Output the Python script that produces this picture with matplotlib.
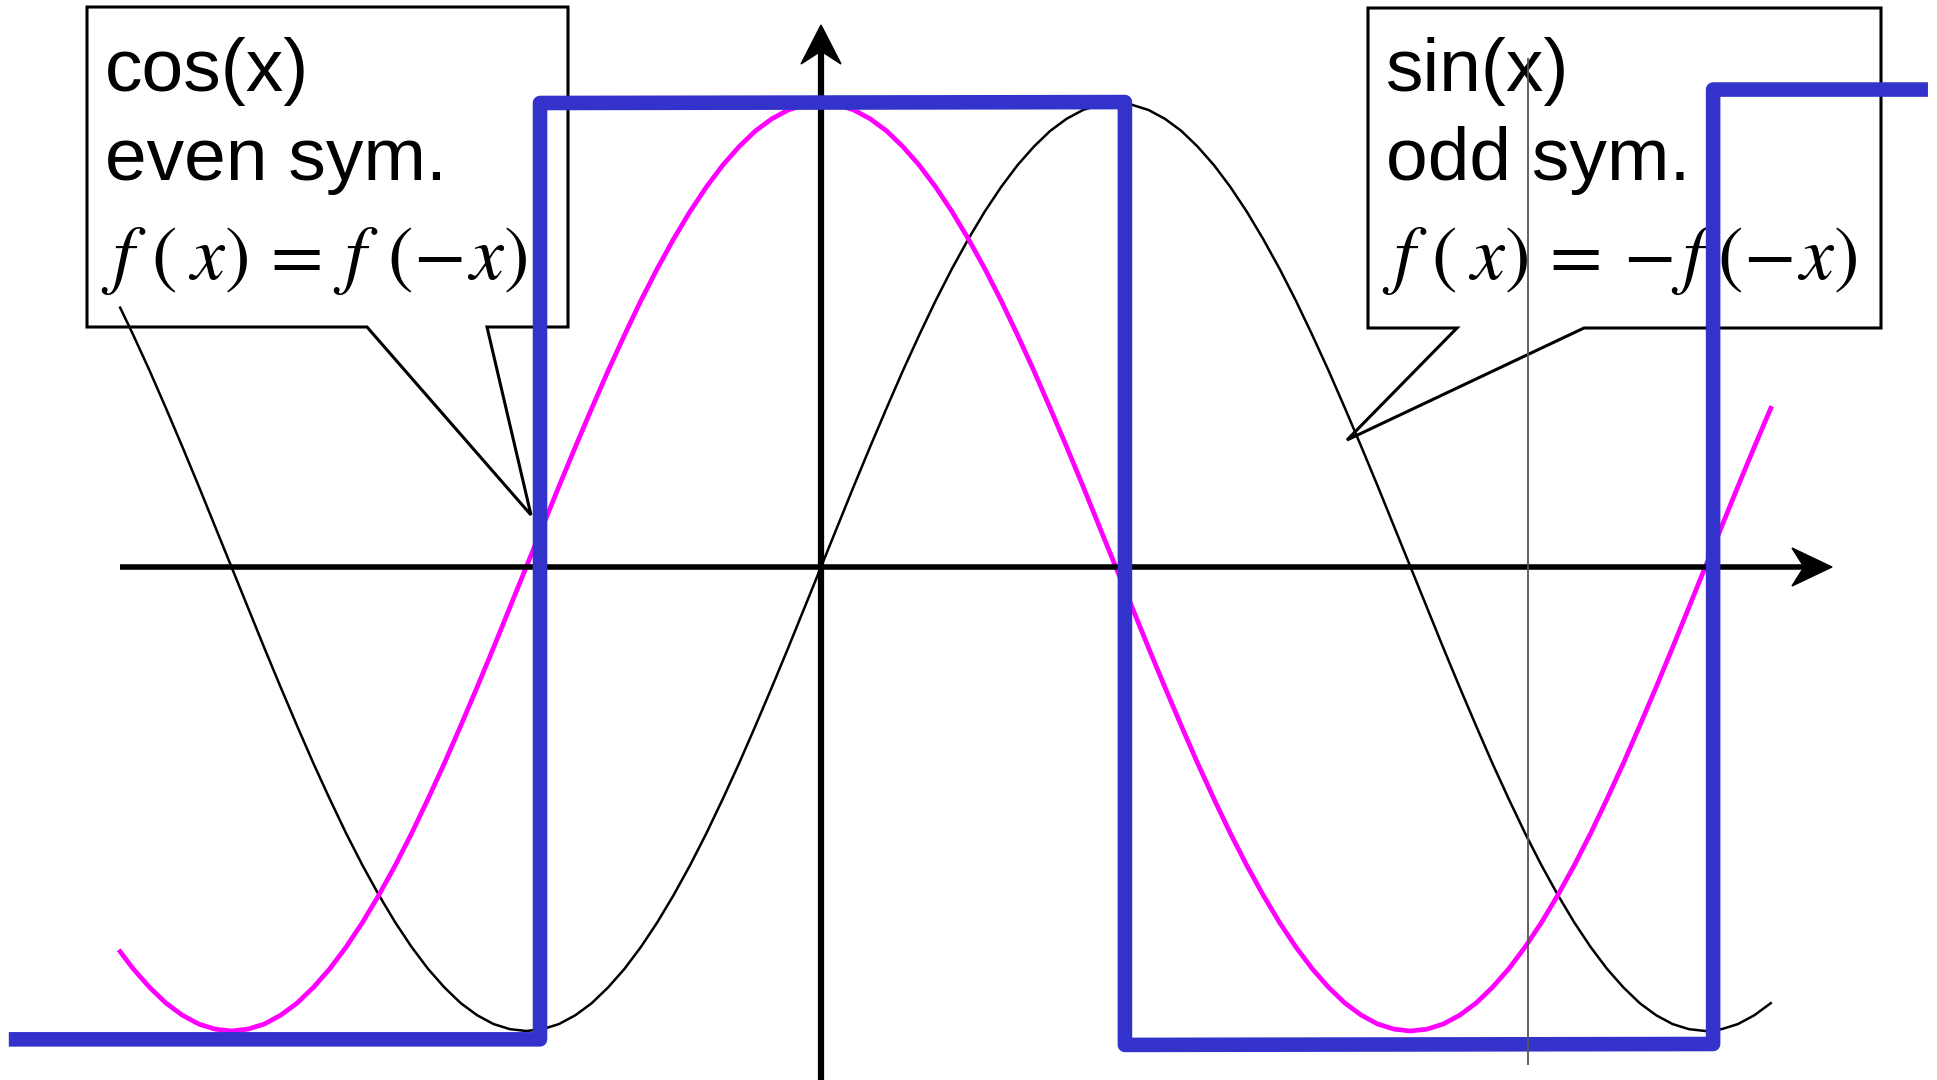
import matplotlib
matplotlib.use("Agg")
import matplotlib.pyplot as plt
from matplotlib.patches import Polygon
from matplotlib.transforms import Affine2D

# angle samples (degrees) and the two curves
angle_deg = [-214] + list(range(-210, 295, 5))
cos_vals = [-0.829,
            -0.866, -0.906, -0.940, -0.966, -0.985, -0.996, -1.000,
            -0.996, -0.985, -0.966, -0.940, -0.906, -0.866, -0.819, -0.766, -0.707,
            -0.643, -0.574, -0.500, -0.423, -0.342, -0.259, -0.174, -0.087, 0.000,
            0.087, 0.174, 0.259, 0.342, 0.423, 0.500, 0.574, 0.643, 0.707,
            0.766, 0.819, 0.866, 0.906, 0.940, 0.966, 0.985, 0.996, 1.000,
            0.996, 0.985, 0.966, 0.940, 0.906, 0.866, 0.819, 0.766, 0.707,
            0.643, 0.574, 0.500, 0.423, 0.342, 0.259, 0.174, 0.087, 0.000,
            -0.087, -0.174, -0.259, -0.342, -0.423, -0.500, -0.574, -0.643, -0.707,
            -0.766, -0.819, -0.866, -0.906, -0.940, -0.966, -0.985, -0.996, -1.000,
            -0.996, -0.985, -0.966, -0.940, -0.906, -0.866, -0.819, -0.766, -0.707,
            -0.643, -0.574, -0.500, -0.423, -0.342, -0.259, -0.174, -0.087, 0.000,
            0.087, 0.174, 0.259, 0.342]
sin_vals = [0.559,
            0.500, 0.423, 0.342, 0.259, 0.174, 0.087, 0.000,
            -0.087, -0.174, -0.259, -0.342, -0.423, -0.500, -0.574, -0.643, -0.707,
            -0.766, -0.819, -0.866, -0.906, -0.940, -0.966, -0.985, -0.996, -1.000,
            -0.996, -0.985, -0.966, -0.940, -0.906, -0.866, -0.819, -0.766, -0.707,
            -0.643, -0.574, -0.500, -0.423, -0.342, -0.259, -0.174, -0.087, 0.000,
            0.087, 0.174, 0.259, 0.342, 0.423, 0.500, 0.574, 0.643, 0.707,
            0.766, 0.819, 0.866, 0.906, 0.940, 0.966, 0.985, 0.996, 1.000,
            0.996, 0.985, 0.966, 0.940, 0.906, 0.866, 0.819, 0.766, 0.707,
            0.643, 0.574, 0.500, 0.423, 0.342, 0.259, 0.174, 0.087, 0.000,
            -0.087, -0.174, -0.259, -0.342, -0.423, -0.500, -0.574, -0.643, -0.707,
            -0.766, -0.819, -0.866, -0.906, -0.940, -0.966, -0.985, -0.996, -1.000,
            -0.996, -0.985, -0.966, -0.940]

# hand drawn square wave
square_x = [-248, -85.8, -85.8, 92.8, 92.8, 272.4, 272.4, 338]
square_y = [-1.018, -1.018, 1.000, 1.002, -1.030, -1.028, 1.029, 1.029]

# thin grey guide line
guide_x = [216]
guide_lo, guide_hi = -1.073, 1.097

labels_left = ["cos(x)", "even sym.",
               r"$f\hspace{0.33}(\hspace{0.25}x)\hspace{0.16}=\hspace{0.2}f\hspace{0.40}(-\hspace{0.07}x)$"]
labels_right = ["sin(x)", "odd sym.",
                r"$f\hspace{0.3}(\hspace{0.25}x)\hspace{0.16}=\hspace{0.2}{-}\hspace{0.12}f\hspace{0.25}(-\hspace{0.07}x)$"]

W, H = 1937, 1080
plt.rcParams["mathtext.fontset"] = "stix"

fig = plt.figure(figsize=(W / 100, H / 100), dpi=100)
ax = fig.add_axes([0, 0, 1, 1])
ax.axis("off")
ax.set_xlim(-821 / 3.275, (W - 821) / 3.275)
ax.set_ylim(-(H - 567) / 464, 567 / 464)

# pixel coords, origin top-left
px = Affine2D().scale(1 / W, -1 / H).translate(0, 1) + fig.transFigure

# callout boxes
left_box = [(87, 7), (568, 7), (568, 327), (487, 327), (531, 515), (367, 327), (87, 327)]
right_box = [(1368, 8), (1881, 8), (1881, 328), (1584, 328), (1347, 440), (1457, 328), (1368, 328)]
for pts in (left_box, right_box):
    ax.add_patch(Polygon(pts, closed=True, facecolor="white", edgecolor="black",
                         linewidth=2.2, joinstyle="miter", transform=px, zorder=1))

for xl, labels in [(105, labels_left), (1386, labels_right)]:
    for j, s in enumerate(labels):
        yb = [91, 180, 279][j]
        if s.startswith("$"):
            ax.text(xl - 4, yb, s, fontsize=55, transform=px, va="baseline", ha="left", zorder=2)
        else:
            ax.text(xl, yb, s, fontsize=54, family="Liberation Sans", transform=px,
                    va="baseline", ha="left", zorder=2)

# curves
ax.plot(angle_deg, sin_vals, color="black", lw=1.8, zorder=3)
ax.plot(angle_deg, cos_vals, color="#ff00ff", lw=3.4, zorder=3)

# axes with arrows
ax.plot([120, 1805], [567, 567], color="black", lw=4.0, transform=px, zorder=4,
        solid_capstyle="butt")
ax.plot([821, 821], [1080, 50], color="black", lw=4.5, transform=px, zorder=4,
        solid_capstyle="butt")
ax.add_patch(Polygon([(1832, 567), (1792, 548), (1804, 567), (1792, 586)],
                     closed=True, facecolor="black", edgecolor="black", lw=1,
                     transform=px, zorder=4))
ax.add_patch(Polygon([(821, 25), (801, 64), (821, 51), (841, 64)],
                     closed=True, facecolor="black", edgecolor="black", lw=1,
                     transform=px, zorder=4))

# square wave
ax.plot(square_x, square_y, color="#3333cc", lw=10.5, zorder=5,
        solid_joinstyle="round", solid_capstyle="butt")

ax.vlines(guide_x, guide_lo, guide_hi, color="#555555", lw=1.3, zorder=6)

fig.savefig("out.png", dpi=100)
